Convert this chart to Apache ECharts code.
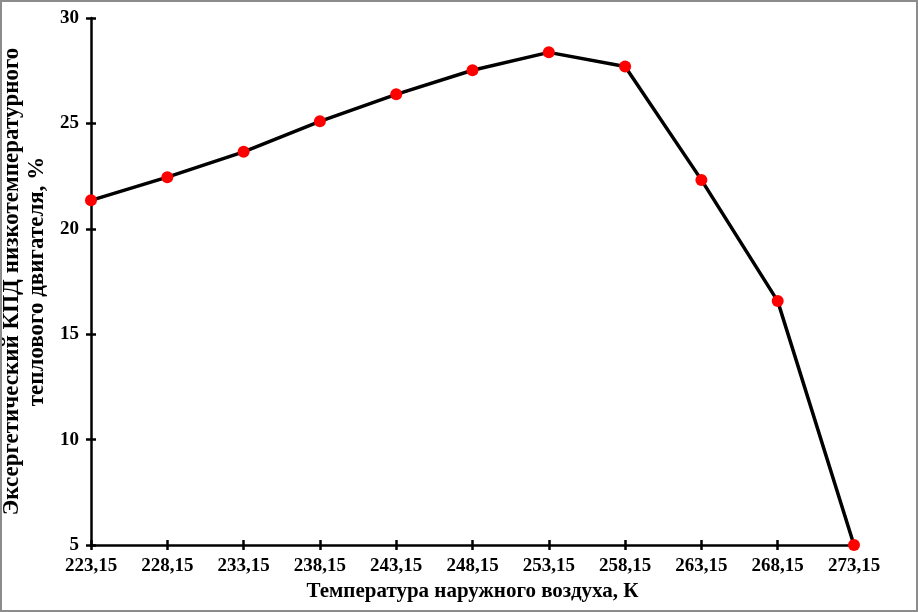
<!DOCTYPE html>
<html lang="ru">

<head>
    <meta charset="UTF-8">
    <title>Эксергетический КПД</title>
    <script src="https://cdn.jsdelivr.net/npm/echarts@6/dist/echarts.min.js"></script>
    <style>
        body {
            margin: 0;
        }

        #root {
            width: 918px;
            height: 612px;
        }
    </style>
</head>

<body>

    <div id="root"></div>
    <script>

        // температура наружного воздуха, К
        var categories = ['223,15', '228,15', '233,15', '238,15', '243,15', '248,15',
            '253,15', '258,15', '263,15', '268,15', '273,15'];
        // эксергетический КПД, %
        var efficiency = [21.35, 22.45, 23.65, 25.1, 26.38, 27.52, 28.37, 27.7, 22.32, 16.57, 5.0];

        var yMin = 5, yMax = 30, yStep = 5;

        var font = '"Liberation Serif", "Times New Roman", serif';

        var mychart = echarts.init(document.getElementById("root"));

        // общие настройки оси
        var lineStyle = { color: '#000', width: 2.5 };

        mychart.setOption({
            animation: false,
            backgroundColor: '#fff',
            grid: { left: 91, right: 64, top: 18, bottom: 67, outerBoundsMode: 'none', containLabel: false },
            graphic: [{
                type: 'rect',
                shape: { x: 1, y: 1, width: 916, height: 610 },
                style: { fill: 'none', stroke: '#8c8c8c', lineWidth: 2 },
                silent: true
            }],
            xAxis: [{
                type: 'category',
                data: categories,
                boundaryGap: false,
                axisLine: { lineStyle: lineStyle },
                axisTick: { inside: false, length: 5, lineStyle: lineStyle },
                axisLabel: { color: '#000', fontFamily: font, fontWeight: 'bold', fontSize: 19, margin: 12 },
                splitLine: { show: false },
                name: 'Температура наружного воздуха, К',
                nameLocation: 'middle',
                nameGap: 33,
                nameTextStyle: { color: '#000', fontFamily: font, fontWeight: 'bold', fontSize: 21 }
            }, {
                // внутренняя часть делений
                type: 'category',
                data: categories,
                boundaryGap: false,
                position: 'bottom',
                axisLine: { show: false },
                axisTick: { inside: true, length: 5, lineStyle: lineStyle },
                axisLabel: { show: false },
                splitLine: { show: false }
            }],
            yAxis: [{
                type: 'value',
                min: yMin,
                max: yMax,
                interval: yStep,
                axisLine: { show: true, lineStyle: lineStyle },
                axisTick: { show: true, inside: false, length: 5, lineStyle: lineStyle },
                axisLabel: { color: '#000', fontFamily: font, fontWeight: 'bold', fontSize: 19, margin: 12 },
                splitLine: { show: false },
                name: 'Эксергетический КПД низкотемпературного\nтеплового двигателя, %',
                nameLocation: 'middle',
                nameGap: 36,
                nameTextStyle: { color: '#000', fontFamily: font, fontWeight: 'bold', fontSize: 23, lineHeight: 25 }
            }, {
                type: 'value',
                min: yMin,
                max: yMax,
                interval: yStep,
                position: 'left',
                axisLine: { show: false },
                axisTick: { show: true, inside: true, length: 5, lineStyle: lineStyle },
                axisLabel: { show: false },
                splitLine: { show: false }
            }],
            series: [{
                type: 'line',
                data: efficiency,
                symbol: 'circle',
                symbolSize: 12,
                lineStyle: { color: '#000', width: 3.5 },
                itemStyle: { color: '#ff0000' },
                z: 5
            }]
        });

    </script>

</body>

</html>
